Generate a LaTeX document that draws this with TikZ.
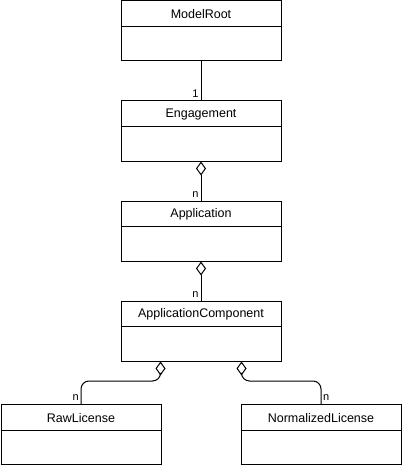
\documentclass[tikz,border=0pt]{standalone}
\usepackage{fontspec}
\setmainfont{Liberation Sans}
\usetikzlibrary{arrows.meta,calc}
\tikzset{
  x=1pt,y=-1pt,
  cls/.style={draw, line width=1pt, minimum width=160pt, minimum height=60pt, inner sep=0pt, anchor=north west},
  hdr/.style={font=\fontsize{12.5}{14}\selectfont, inner sep=0pt},
  mult/.style={font=\fontsize{11}{13}\selectfont, inner sep=1pt},
  conn/.style={line width=1pt},
  agg/.style={conn, {Diamond[open,length=14pt,width=10pt,line width=1pt]}-},
}
\newcommand{\umlcls}[4]{%
  \node[cls] (#1) at (#2,#3) {};
  \node[hdr] (#1-t) at ($(#1.north)+(0,14)$) {#4};
  \draw[line width=1pt] ($(#1.north west)+(0,26)$) -- ($(#1.north east)+(0,26)$);
}
\begin{document}
\begin{tikzpicture}
\useasboundingbox (0,0) rectangle (401,465);
\umlcls{mr}{120.5}{0.5}{ModelRoot}
\umlcls{eng}{120.5}{100.5}{Engagement}
\umlcls{app}{120.5}{200.5}{Application}
\umlcls{ac}{120.5}{300.5}{ApplicationComponent}
\umlcls{raw}{0.5}{404}{RawLicense}
\umlcls{norm}{240.5}{404}{NormalizedLicense}

\draw[conn] (mr.south) -- node[mult, pos=1, anchor=south east, xshift=-1pt, yshift=1pt] {1} (eng.north);
\draw[agg] (eng.south) -- node[mult, pos=1, anchor=south east, xshift=-1pt, yshift=2pt] {n} (app.north);
\draw[agg] (app.south) -- node[mult, pos=1, anchor=south east, xshift=-1pt, yshift=2pt] {n} (ac.north);
\coordinate (aL) at ($(ac.south west)+(40,0)$);
\coordinate (aR) at ($(ac.south east)+(-40,0)$);
\draw[agg, rounded corners=8pt] (aL) -- ($(aL)+(0,19.5)$) -| (raw.north);
\draw[agg, rounded corners=8pt] (aR) -- ($(aR)+(0,19.5)$) -| (norm.north);
\node[mult, anchor=south east] at ($(raw.north)+(-1,-2)$) {n};
\node[mult, anchor=south west] at ($(norm.north)+(1,-2)$) {n};
\end{tikzpicture}
\end{document}
